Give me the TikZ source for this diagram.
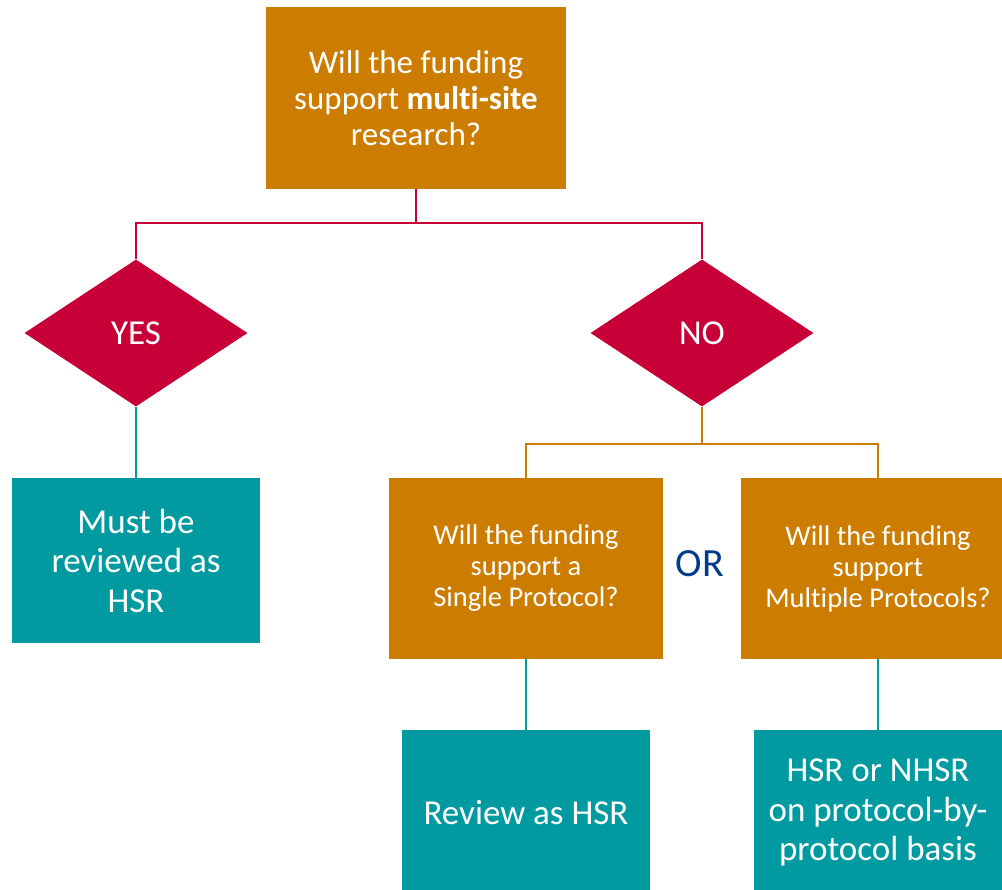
\documentclass[tikz,border=0pt]{standalone}
\usepackage{fontspec}
\setmainfont[Ligatures=NoCommon]{Carlito}
\usetikzlibrary{graphs,shapes.geometric}
\definecolor{qorange}{RGB}{204,125,0}
\definecolor{ynred}{RGB}{200,0,56}
\definecolor{hsrteal}{RGB}{0,154,160}
\definecolor{orblue}{RGB}{0,58,140}
\tikzset{
	question/.style={rectangle, fill=qorange, text=white, inner sep=0pt, align=center,
			minimum width=274pt, minimum height=181pt, font=\fontsize{28.5}{31}\selectfont},
	answer/.style={diamond, fill=ynred, text=white, inner sep=0pt,
			minimum width=223pt, minimum height=147pt, font=\fontsize{35}{40}\selectfont},
	outcome/.style={rectangle, fill=hsrteal, text=white, inner sep=0pt, align=center,
			minimum width=248pt, minimum height=165pt, font=\fontsize{35}{39.5}\selectfont},
	link/.style={draw=#1, line width=2pt},
	elbow/.style={to path={(\tikztostart.south) -- ++(0,#1) -| (\tikztotarget.north)}}
}

\begin{document}
\begin{tikzpicture}[x=1pt, y=-1pt]
	\useasboundingbox (0,0) rectangle (1002,890);
	\graph[no placement]{
		site/{Will the funding\\support \textbf{multi-site}\\research?}[question, minimum width=300pt,
				minimum height=182pt, font=\fontsize{33}{36}\selectfont, at={(416,98)}];
		yes/YES[answer, at={(136,333)}];
		no/NO[answer, at={(702,333)}];
		mustrev/{Must be\\reviewed as\\HSR}[outcome, at={(136,560.5)}];
		single/{Will the funding\\support a\\Single Protocol?}[question, at={(526,568.5)}];
		or/OR[text=orblue, font=\fontsize{40}{44}\selectfont, at={(700,564)}];
		several/{Will the funding\\support\\Multiple Protocols?}[question, at={(878,568.5)}];
		review/{Review as HSR}[outcome, at={(526,812.5)}];
		basis/{HSR or NHSR\\on protocol-by-\\protocol basis}[outcome, at={(878,812.5)}];

		site --[link=ynred, elbow=34] yes;
		site --[link=ynred, elbow=34] no;
		yes --[link=hsrteal] mustrev;
		no --[link=qorange, elbow=37] single;
		no --[link=qorange, elbow=37] several;
		single --[link=hsrteal] review;
		several --[link=hsrteal] basis;
	};
\end{tikzpicture}
\end{document}
